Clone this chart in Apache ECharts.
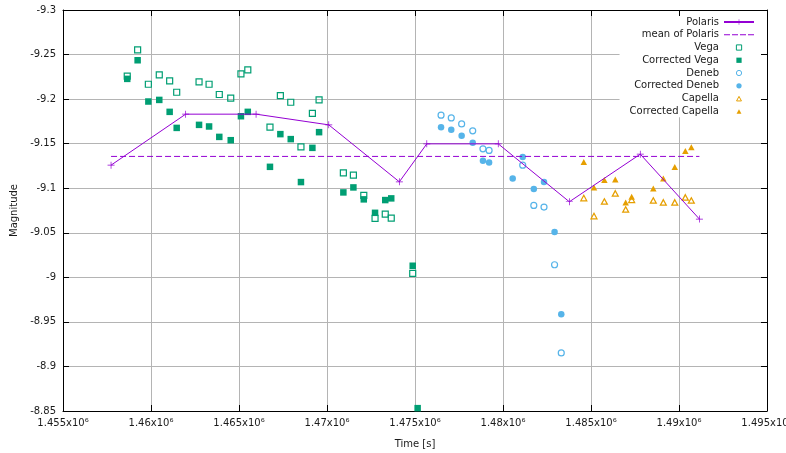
<!DOCTYPE html>
<html>
<head>
<meta charset="utf-8">
<script src="https://cdn.jsdelivr.net/npm/echarts@6/dist/echarts.min.js"></script>
<style>
  html, body { margin: 0; padding: 0; background: #fff; }
  #chart { width: 786px; height: 453px; }
</style>
</head>
<body>
<div id="chart"></div>
<script>
// Observation times [s] and magnitudes
const polarisT = [1457730, 1461970, 1465970, 1470100, 1474110, 1475670, 1479730, 1483770, 1487800, 1491160];
const polarisMag = [-9.1259, -9.1831, -9.1831, -9.1711, -9.1072, -9.1498, -9.1498, -9.0848, -9.1382, -9.0654];
const polarisMean = -9.1357;

const vegaT = [1458650, 1459240, 1459850, 1460470, 1461060, 1461460, 1462730, 1463300, 1463880, 1464530,
  1465110, 1465500, 1466760, 1467350, 1467940, 1468520, 1469170, 1469550, 1470930, 1471500,
  1472090, 1472730, 1473310, 1473650, 1474870];
const vegaMag = [-9.2257, -9.2552, -9.2167, -9.2271, -9.2204, -9.2077, -9.2193, -9.2167, -9.2052, -9.2010,
  -9.2283, -9.2327, -9.1685, -9.2040, -9.1965, -9.1464, -9.1839, -9.1991, -9.1173, -9.1147,
  -9.0919, -9.0662, -9.0710, -9.0665, -9.0045];
const corrVegaT = [1458650, 1459240, 1459850, 1460470, 1461060, 1461460, 1462730, 1463300, 1463880, 1464530,
  1465110, 1465500, 1466760, 1467350, 1467940, 1468520, 1469170, 1469550, 1470930, 1471500,
  1472090, 1472730, 1473310, 1473650, 1474870, 1475150];
const corrVegaMag = [-9.2227, -9.2436, -9.1973, -9.1991, -9.1857, -9.1677, -9.1711, -9.1693, -9.1576, -9.1539,
  -9.1808, -9.1857, -9.1240, -9.1607, -9.1551, -9.1069, -9.1453, -9.1629, -9.0953, -9.1009,
  -9.0875, -9.0724, -9.0867, -9.0886, -9.0130, -8.8532];

const denebT = [1476480, 1477060, 1477650, 1478280, 1478860, 1479210, 1481120, 1481750, 1482330, 1482930, 1483310];
const denebMag = [-9.1820, -9.1789, -9.1722, -9.1644, -9.1442, -9.1424, -9.1259, -9.0807, -9.0788, -9.0141, -8.9152];
const corrDenebT = [1476480, 1477060, 1477650, 1478280, 1478860, 1479210, 1480550, 1481120, 1481750, 1482330, 1482930, 1483310];
const corrDenebMag = [-9.1685, -9.1655, -9.1588, -9.1509, -9.1307, -9.1289, -9.1110, -9.1349, -9.0990, -9.1069, -9.0508, -8.9585];

const capellaT = [1484590, 1485170, 1485760, 1486380, 1486970, 1487310, 1488540, 1489110, 1489760, 1490360, 1490700];
const capellaMag = [-9.0889, -9.0687, -9.0852, -9.0942, -9.0762, -9.0870, -9.0863, -9.0841, -9.0841, -9.0897, -9.0863];
const corrCapellaMag = [-9.1293, -9.1009, -9.1091, -9.1099, -9.0841, -9.0904, -9.0998, -9.1110, -9.1237, -9.1419, -9.1461];

const timeTicks = { min: 1455000, max: 1495000, step: 5000 };
const magTicks = { min: -9.3, max: -8.85, step: 0.05 };

const purple = '#9400d3';
const green = '#009e73';
const blue = '#56b4e9';
const orange = '#e69f00';
const FONT = 'DejaVu Sans';
const TXT = '#1a1a1a';

const zip = (xs, ys) => xs.map((x, i) => [x, ys[i]]);

// Marker shapes
const plusPath = 'path://M4.5,0h1v4.5h4.5v1h-4.5v4.5h-1v-4.5h-4.5v-1h4.5z';
const squarePath = 'path://M0,0h10v10h-10z';
const trianglePath = 'path://M5,0L10,9L0,9z';
// Key icons: the leading moves pad the icon box so the glyph sits smaller inside it
const keySquare = 'path://M0,0M8,8M1,1h6v6h-6z';
const keyTriangle = 'path://M0,0M10,10M5,2L8.5,8.5L1.5,8.5z';
const keyCircle = 'path://M0,0M8,8M4,1a3,3 0 1,0 0.001,0z';
const keyDash = 'path://M0,0h6v1h-6zM8,0h6v1h-6zM16,0h6v1h-6zM24,0h6v1h-6z';

const xFmt = v => (+(v / 1e6).toFixed(3)) + 'x10\u2076';
const yFmt = v => String(+v.toFixed(2));

const openStyle = c => ({ color: 'rgba(255,255,255,0)', borderColor: c, borderWidth: 1.2, opacity: 1 });
const solidStyle = c => ({ color: c, opacity: 1 });

const mirrorAxis = {
  axisLine: { onZero: false, lineStyle: { color: '#000', width: 1 } },
  axisTick: { inside: true, length: 6, lineStyle: { color: '#000' } },
  axisLabel: { show: false },
  splitLine: { show: false },
  z: 10
};

const chart = echarts.init(document.getElementById('chart'), null, { renderer: 'canvas' });
chart.setOption({
  animation: false,
  backgroundColor: '#fff',
  textStyle: { fontFamily: FONT },
  grid: { left: 63, right: 19, top: 10, bottom: 42, containLabel: false, outerBoundsMode: 'none' },
  legend: {
    orient: 'vertical',
    align: 'right',
    right: 19,
    top: 10,
    padding: [6, 12, 0, 10],
    backgroundColor: '#fff',
    itemWidth: 30,
    itemHeight: 7,
    itemGap: 0.75,
    textStyle: { fontFamily: FONT, fontSize: 10, color: TXT, lineHeight: 12 },
    data: [
      'Polaris',
      { name: 'mean of Polaris', icon: keyDash },
      { name: 'Vega', icon: keySquare, itemStyle: { borderWidth: 1 } },
      { name: 'Corrected Vega', icon: keySquare },
      { name: 'Deneb', icon: keyCircle, itemStyle: { borderWidth: 1 } },
      { name: 'Corrected Deneb', icon: keyCircle },
      { name: 'Capella', icon: keyTriangle, itemStyle: { borderWidth: 1 } },
      { name: 'Corrected Capella', icon: keyTriangle }
    ]
  },
  xAxis: [{
    type: 'value',
    min: timeTicks.min, max: timeTicks.max, interval: timeTicks.step,
    name: 'Time [s]', nameLocation: 'middle', nameGap: 28,
    nameTextStyle: { fontFamily: FONT, fontSize: 10, color: TXT },
    axisLine: { onZero: false, lineStyle: { color: '#000', width: 1 } },
    axisTick: { inside: true, length: 6, lineStyle: { color: '#000' } },
    axisLabel: { formatter: xFmt, fontFamily: FONT, fontSize: 10, color: TXT, margin: 7 },
    splitLine: { show: true, lineStyle: { color: '#b4b4b4', width: 1 } }
  }, Object.assign({
    type: 'value', position: 'top',
    min: timeTicks.min, max: timeTicks.max, interval: timeTicks.step
  }, mirrorAxis)],
  yAxis: [{
    type: 'value', inverse: true,
    min: magTicks.min, max: magTicks.max, interval: magTicks.step,
    name: 'Magnitude', nameLocation: 'middle', nameGap: 34,
    nameTextStyle: { fontFamily: FONT, fontSize: 10, color: TXT },
    axisLine: { onZero: false, lineStyle: { color: '#000', width: 1 } },
    axisTick: { inside: true, length: 6, lineStyle: { color: '#000' } },
    axisLabel: { formatter: yFmt, fontFamily: FONT, fontSize: 10, color: TXT, margin: 7 },
    splitLine: { show: true, lineStyle: { color: '#b4b4b4', width: 1 } }
  }, Object.assign({
    type: 'value', inverse: true, position: 'right',
    min: magTicks.min, max: magTicks.max, interval: magTicks.step
  }, mirrorAxis)],
  series: [
    {
      name: 'Polaris', type: 'line', data: zip(polarisT, polarisMag),
      symbol: plusPath, symbolSize: 7, showSymbol: true,
      color: purple,
      lineStyle: { color: purple, width: 1 },
      itemStyle: { color: purple }
    },
    {
      name: 'mean of Polaris', type: 'line',
      data: [[polarisT[0], polarisMean], [polarisT[polarisT.length - 1], polarisMean]],
      symbol: 'none', color: purple,
      itemStyle: { color: purple },
      lineStyle: { color: purple, width: 1, type: [6, 3] }
    },
    {
      name: 'Vega', type: 'scatter', data: zip(vegaT, vegaMag),
      symbol: squarePath, symbolSize: 6,
      color: green, itemStyle: openStyle(green)
    },
    {
      name: 'Corrected Vega', type: 'scatter', data: zip(corrVegaT, corrVegaMag),
      symbol: squarePath, symbolSize: 6.5,
      color: green, itemStyle: solidStyle(green)
    },
    {
      name: 'Deneb', type: 'scatter', data: zip(denebT, denebMag),
      symbol: 'circle', symbolSize: 6,
      color: blue, itemStyle: openStyle(blue)
    },
    {
      name: 'Corrected Deneb', type: 'scatter', data: zip(corrDenebT, corrDenebMag),
      symbol: 'circle', symbolSize: 6.5,
      color: blue, itemStyle: solidStyle(blue)
    },
    {
      name: 'Capella', type: 'scatter', data: zip(capellaT, capellaMag),
      symbol: trianglePath, symbolSize: [6, 5.5],
      color: orange, itemStyle: openStyle(orange)
    },
    {
      name: 'Corrected Capella', type: 'scatter', data: zip(capellaT, corrCapellaMag),
      symbol: trianglePath, symbolSize: [6.5, 6],
      color: orange, itemStyle: solidStyle(orange)
    }
  ]
});
</script>
</body>
</html>
